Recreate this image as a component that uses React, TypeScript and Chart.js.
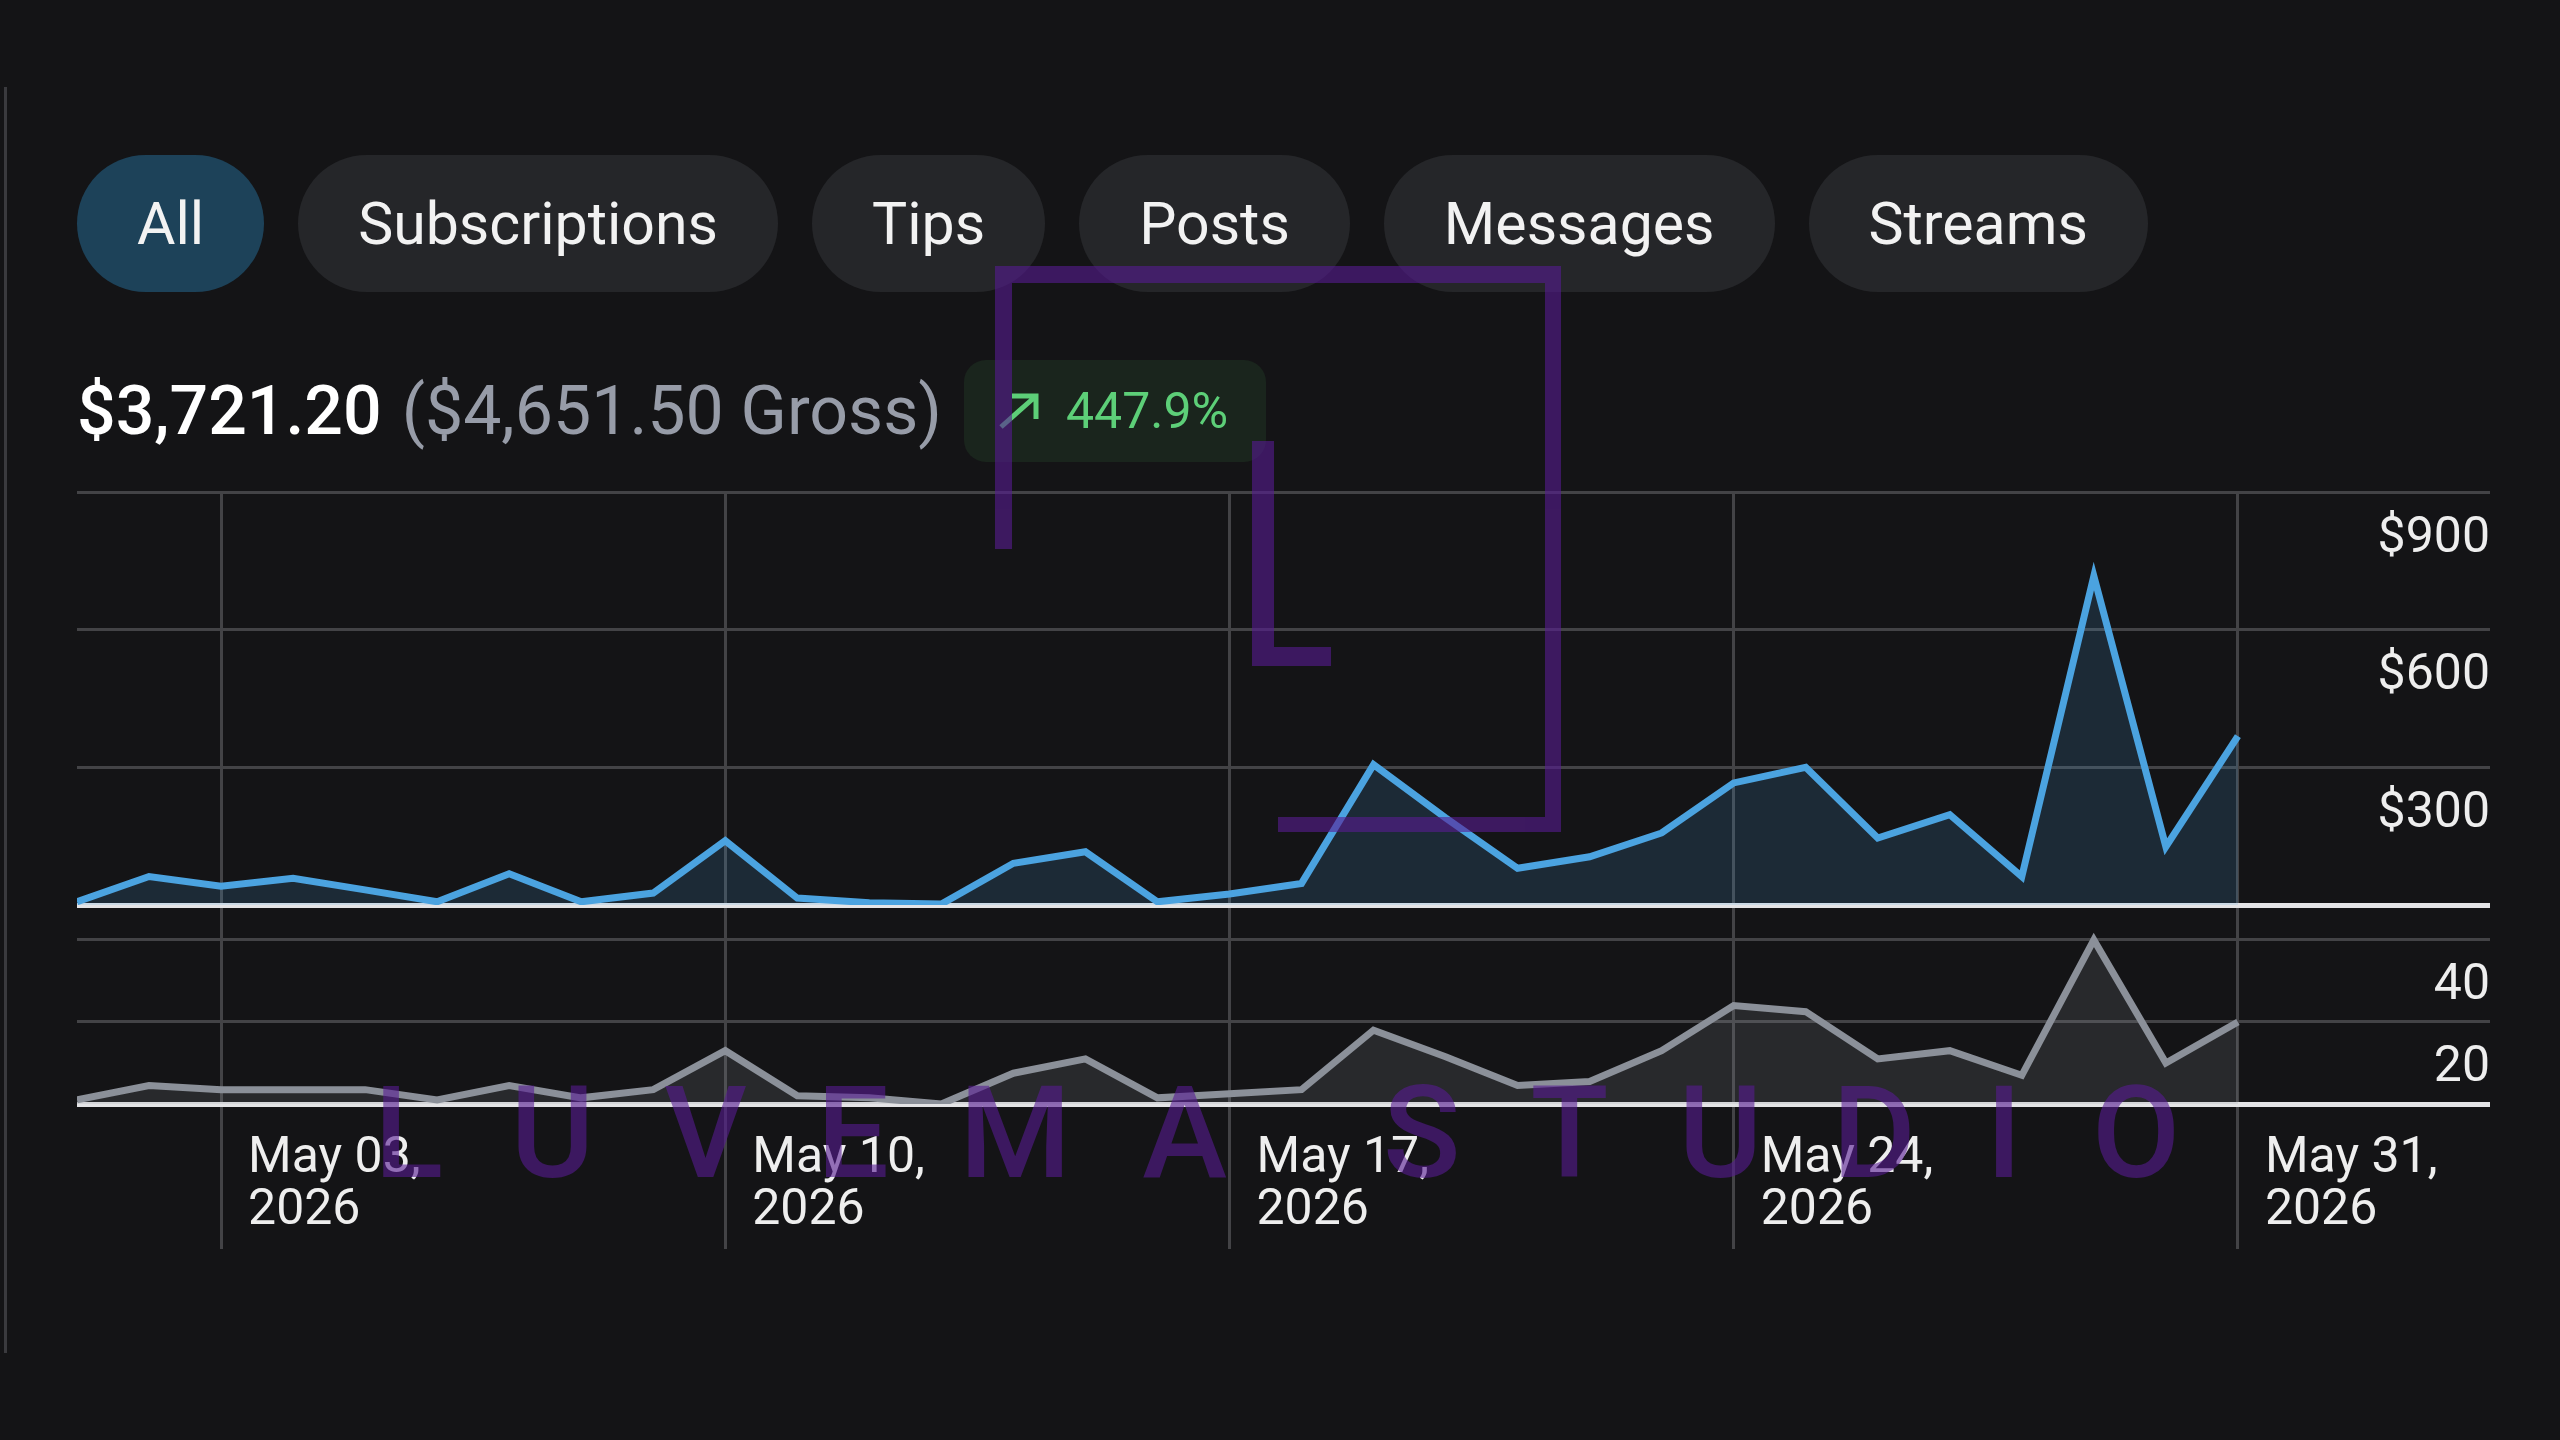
import React, { useEffect, useRef } from "react";
import { Chart, registerables } from "chart.js";

Chart.register(...registerables);

// Day of month (May 2026) for each point
const DAYS = [
  1, 2, 3, 4, 5, 6, 7, 8, 9, 10, 11, 12, 13, 14, 15, 16, 17, 18, 19, 20, 21, 22,
  23, 24, 25, 26, 27, 28, 29, 30, 31,
];

// Net earnings per day, in dollars
const NET_EARNINGS = [
  7, 62, 41, 58, 33, 7, 68, 7, 26, 140, 15, 5, 2, 91, 116, 7, 24, 47, 306, 190,
  80, 105, 157, 266, 300, 146, 197, 62, 717, 127, 368,
];

// Number of transactions per day
const TRANSACTIONS = [
  1, 4.5, 3.5, 3.5, 3.5, 1, 4.5, 1.5, 3.5, 13, 2, 1.5, 0, 7.5, 11, 1.5, 2.5, 3.5,
  18, 11.5, 4.5, 5.5, 13, 24, 22.5, 11, 13, 7, 40, 10, 20,
];

const WEEK_TICKS = [3, 10, 17, 24, 31];
const WEEK_LABELS = [
  ["May 03,", "2026"],
  ["May 10,", "2026"],
  ["May 17,", "2026"],
  ["May 24,", "2026"],
  ["May 31,", "2026"],
];
const EARNINGS_TICKS = [0, 300, 600, 900];
const TRANSACTION_TICKS = [0, 20, 40];

const FILTERS = ["All", "Subscriptions", "Tips", "Posts", "Messages", "Streams"];
const NET_TOTAL = "$3,721.20";
const GROSS_TOTAL = "$4,651.50";
const CHANGE = "447.9%";
const BRAND = "LUVEMA STUDIO";

const BG = "#141416";
const GRID = "#434346";
const ZERO_LINE = "#e4e4e6";
const LABEL = "#eeeeee";

function EarningsChart() {
  const ref = useRef<HTMLCanvasElement>(null);

  useEffect(() => {
    if (!ref.current) return;
    const gridColor = (ctx: any) =>
      ctx.tick && ctx.tick.value === 0 ? ZERO_LINE : GRID;
    const gridWidth = (ctx: any) => (ctx.tick && ctx.tick.value === 0 ? 5 : 3);
    const tickFont = { family: "Roboto", size: 50, lineHeight: 1.04 };

    const chart = new Chart(ref.current, {
      type: "line",
      data: {
        datasets: [
          {
            label: "Net earnings",
            data: DAYS.map((d, i) => ({ x: d, y: NET_EARNINGS[i] })),
            yAxisID: "y",
            borderColor: "#4ba3e0",
            backgroundColor: "rgba(75,163,224,0.16)",
            borderWidth: 7,
            fill: "origin",
            pointRadius: 0,
            tension: 0,
          },
          {
            label: "Transactions",
            data: DAYS.map((d, i) => ({ x: d, y: TRANSACTIONS[i] })),
            yAxisID: "y2",
            borderColor: "#8b9099",
            backgroundColor: "rgba(140,146,155,0.17)",
            borderWidth: 7,
            fill: "origin",
            pointRadius: 0,
            tension: 0,
          },
        ],
      },
      options: {
        animation: false,
        responsive: false,
        maintainAspectRatio: false,
        layout: { padding: { top: 10, right: 0, bottom: 0, left: 0 } },
        plugins: {
          legend: { display: false },
          tooltip: { enabled: false },
        },
        scales: {
          x: {
            type: "linear",
            min: 1,
            max: 34.5,
            afterBuildTicks: (s: any) => {
              s.ticks = WEEK_TICKS.map((v) => ({ value: v }));
            },
            afterFit: (s: any) => {
              s.height = 160;
            },
            grid: {
              color: GRID,
              lineWidth: 3,
              drawTicks: true,
              tickLength: 145,
            },
            border: { display: false },
            ticks: {
              align: "start",
              labelOffset: 27,
              padding: -116,
              maxRotation: 0,
              autoSkip: false,
              color: LABEL,
              font: tickFont,
              callback: (_v: any, i: number) => WEEK_LABELS[i],
            },
          },
          y: {
            type: "linear",
            position: "right",
            stack: "panels",
            stackWeight: 413,
            min: 0,
            max: 900,
            afterBuildTicks: (s: any) => {
              s.ticks = EARNINGS_TICKS.map((v) => ({ value: v }));
            },
            grid: { color: gridColor, lineWidth: gridWidth, drawTicks: false },
            border: { display: false },
            ticks: {
              mirror: true,
              padding: 0,
              labelOffset: 47,
              color: LABEL,
              font: tickFont,
              callback: (v: any) => (v === 0 ? "" : "$" + v),
            },
          },
          y2: {
            type: "linear",
            position: "right",
            stack: "panels",
            stackWeight: 199,
            min: 0,
            max: 48.5,
            afterBuildTicks: (s: any) => {
              s.ticks = TRANSACTION_TICKS.map((v) => ({ value: v }));
            },
            grid: { color: gridColor, lineWidth: gridWidth, drawTicks: false },
            border: { display: false },
            ticks: {
              mirror: true,
              padding: 0,
              labelOffset: 47,
              color: LABEL,
              font: tickFont,
              callback: (v: any) => (v === 0 ? "" : String(v)),
            },
          },
        },
      } as any,
    });
    return () => chart.destroy();
  }, []);

  return (
    <canvas
      ref={ref}
      width={2413}
      height={798}
      style={{ position: "absolute", left: 77, top: 466, width: 2413, height: 798 }}
    />
  );
}

function Watermark() {
  const purple = "rgb(88,28,147)";
  return (
    <svg
      width={2560}
      height={1440}
      style={{ position: "absolute", left: 0, top: 0, pointerEvents: "none" }}
    >
      <g fill={purple} opacity={0.6}>
        <rect x={995} y={266} width={566} height={17} />
        <rect x={995} y={283} width={17} height={266} />
        <rect x={1545} y={283} width={16} height={534} />
        <rect x={1278} y={817} width={283} height={15} />
        <rect x={1252} y={441} width={22} height={206} />
        <rect x={1252} y={647} width={79} height={19} />
        <text
          x={374}
          y={1177}
          fontFamily="Roboto"
          fontSize={128}
          fontWeight={500}
          letterSpacing={70}
          wordSpacing={-16}
          style={{ whiteSpace: "pre" }}
        >
          {BRAND}
        </text>
      </g>
    </svg>
  );
}

export default function App() {
  return (
    <div
      style={{
        position: "absolute",
        left: 0,
        top: 0,
        width: 2560,
        height: 1440,
        overflow: "hidden",
        background: BG,
        fontFamily: "Roboto, sans-serif",
      }}
    >
      <div
        style={{
          position: "absolute",
          left: 4,
          top: 87,
          width: 3,
          height: 1266,
          background: "#3a3a3e",
        }}
      />
      <div
        style={{
          position: "absolute",
          left: 77,
          top: 155,
          display: "flex",
          gap: 34,
        }}
      >
        {FILTERS.map((f, i) => (
          <div
            key={f}
            style={{
              height: 137,
              borderRadius: 69,
              padding: "0 60px",
              display: "flex",
              alignItems: "center",
              fontSize: 59,
              color: "#f2f2f2",
              background: i === 0 ? "#1d4259" : "#252629",
              whiteSpace: "nowrap",
            }}
          >
            {f}
          </div>
        ))}
      </div>
      <div
        style={{
          position: "absolute",
          left: 77,
          top: 360,
          height: 102,
          display: "flex",
          alignItems: "center",
          whiteSpace: "nowrap",
        }}
      >
        <span style={{ fontSize: 68, fontWeight: 500, color: "#ffffff" }}>
          {NET_TOTAL}
        </span>
        <span style={{ fontSize: 68, color: "#979ca8", marginLeft: 20 }}>
          ({GROSS_TOTAL} Gross)
        </span>
      </div>
      <div
        style={{
          position: "absolute",
          left: 964,
          top: 360,
          width: 302,
          height: 102,
          borderRadius: 22,
          background: "#1a251d",
          display: "flex",
          alignItems: "center",
          boxSizing: "border-box",
          paddingLeft: 34,
          color: "#5dcf78",
        }}
      >
        <svg width={42} height={38} viewBox="0 0 42 38" style={{ flex: "none" }}>
          <path
            d="M3 35 L38 4 M14 4 L38 4 L38 27"
            stroke="#5dcf78"
            strokeWidth={5}
            fill="none"
          />
        </svg>
        <span style={{ fontSize: 50, marginLeft: 26 }}>{CHANGE}</span>
      </div>
      <EarningsChart />
      <Watermark />
    </div>
  );
}
